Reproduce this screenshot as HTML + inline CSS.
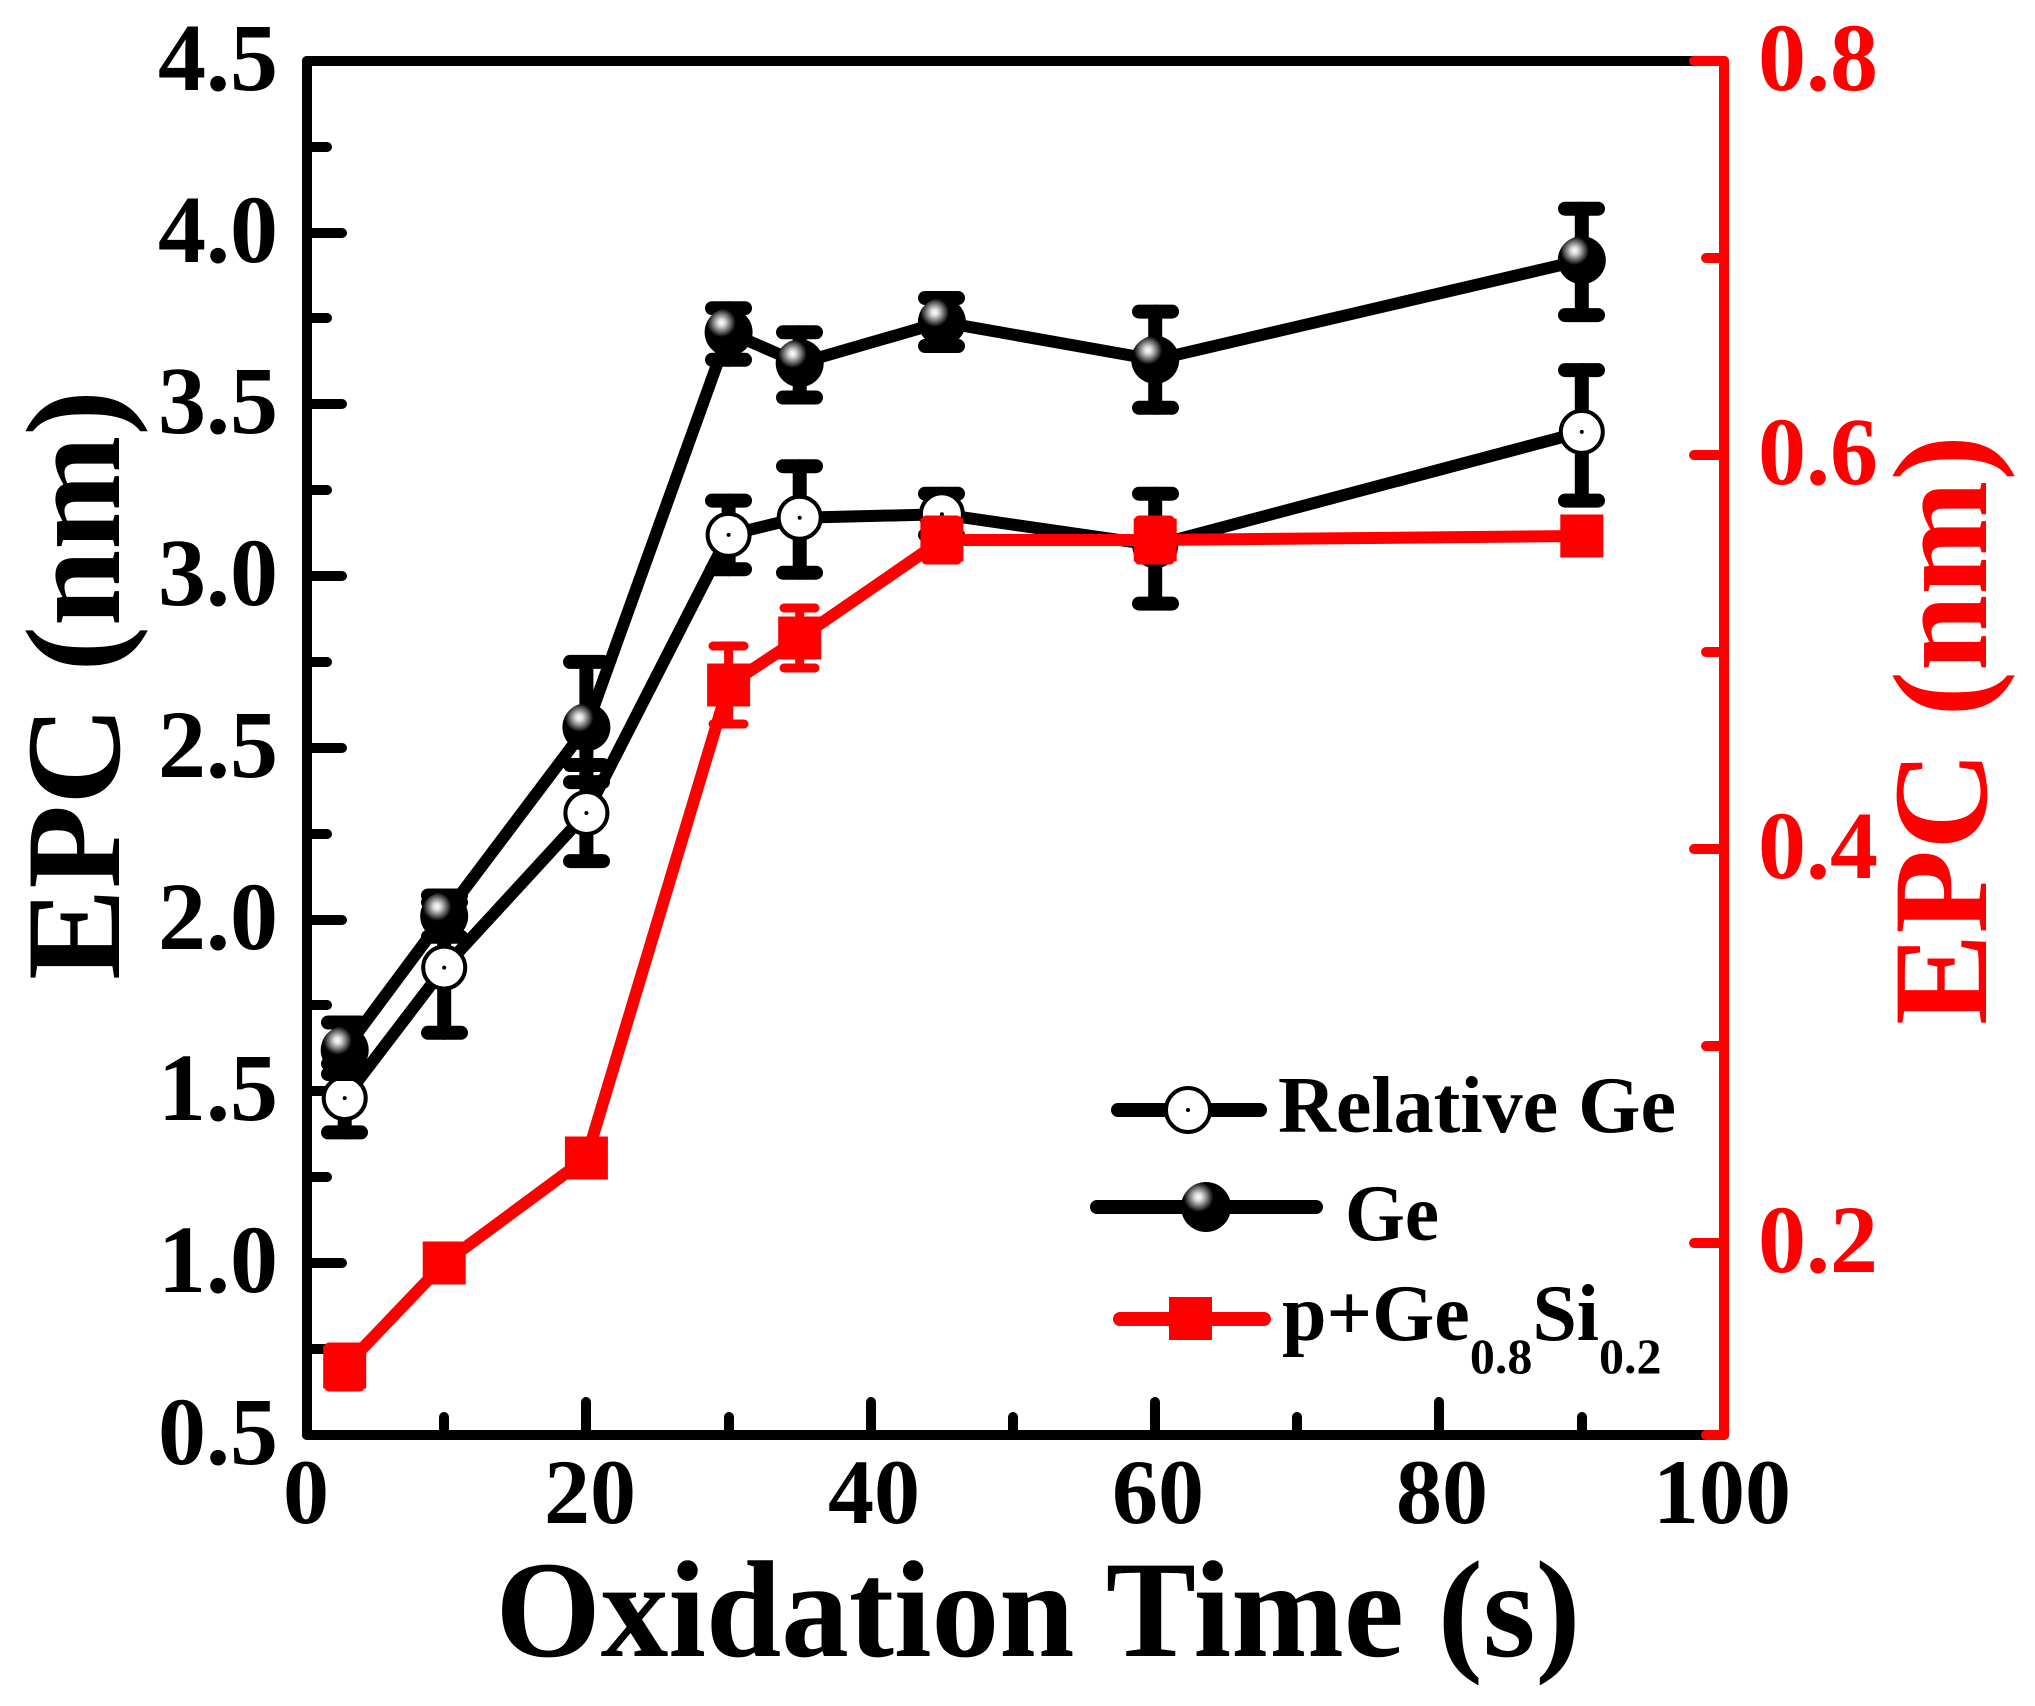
<!DOCTYPE html>
<html><head><meta charset="utf-8"><style>html,body{margin:0;padding:0;background:#fff}svg{display:block}</style></head>
<body>
<svg width="2035" height="1706" viewBox="0 0 2035 1706" xmlns="http://www.w3.org/2000/svg" font-family="Liberation Serif, serif" font-weight="bold">
<defs>
<radialGradient id="g" cx="0.35" cy="0.3" r="0.6">
<stop offset="0" stop-color="#fff"/><stop offset="0.12" stop-color="#ddd"/><stop offset="0.3" stop-color="#777"/><stop offset="0.5" stop-color="#000"/><stop offset="1" stop-color="#000"/>
</radialGradient>
</defs>
<g stroke="#000" stroke-width="10" stroke-linecap="round">
<line x1="307" y1="61" x2="1724" y2="61"/>
<line x1="307" y1="61" x2="307" y2="1435"/>
<line x1="307" y1="1435" x2="1724" y2="1435"/>
<line x1="307" y1="61" x2="342" y2="61"/>
<line x1="307" y1="233" x2="342" y2="233"/>
<line x1="307" y1="404" x2="342" y2="404"/>
<line x1="307" y1="576" x2="342" y2="576"/>
<line x1="307" y1="748" x2="342" y2="748"/>
<line x1="307" y1="920" x2="342" y2="920"/>
<line x1="307" y1="1091" x2="342" y2="1091"/>
<line x1="307" y1="1263" x2="342" y2="1263"/>
<line x1="307" y1="147" x2="327" y2="147"/>
<line x1="307" y1="318" x2="327" y2="318"/>
<line x1="307" y1="490" x2="327" y2="490"/>
<line x1="307" y1="662" x2="327" y2="662"/>
<line x1="307" y1="834" x2="327" y2="834"/>
<line x1="307" y1="1005" x2="327" y2="1005"/>
<line x1="307" y1="1177" x2="327" y2="1177"/>
<line x1="307" y1="1349" x2="327" y2="1349"/>
<line x1="586" y1="1435" x2="586" y2="1402"/>
<line x1="871" y1="1435" x2="871" y2="1402"/>
<line x1="1155" y1="1435" x2="1155" y2="1402"/>
<line x1="1439" y1="1435" x2="1439" y2="1402"/>
<line x1="444" y1="1435" x2="444" y2="1417"/>
<line x1="729" y1="1435" x2="729" y2="1417"/>
<line x1="1013" y1="1435" x2="1013" y2="1417"/>
<line x1="1297" y1="1435" x2="1297" y2="1417"/>
<line x1="1582" y1="1435" x2="1582" y2="1417"/>
</g>
<g stroke="#f00" stroke-width="10" stroke-linecap="round">
<line x1="1724" y1="61" x2="1724" y2="1435"/>
<line x1="1724" y1="61" x2="1694" y2="61"/>
<line x1="1724" y1="455" x2="1694" y2="455"/>
<line x1="1724" y1="849" x2="1694" y2="849"/>
<line x1="1724" y1="1243" x2="1694" y2="1243"/>
<line x1="1724" y1="258" x2="1706" y2="258"/>
<line x1="1724" y1="652" x2="1706" y2="652"/>
<line x1="1724" y1="1046" x2="1706" y2="1046"/>
<line x1="1724" y1="1435" x2="1706" y2="1435"/>
</g>
<g font-size="96" text-anchor="end" fill="#000">
<text x="278" y="90">4.5</text>
<text x="278" y="262">4.0</text>
<text x="278" y="433">3.5</text>
<text x="278" y="605">3.0</text>
<text x="278" y="777">2.5</text>
<text x="278" y="949">2.0</text>
<text x="278" y="1120">1.5</text>
<text x="278" y="1292">1.0</text>
<text x="278" y="1464">0.5</text>
</g>
<g font-size="92" text-anchor="middle" fill="#000">
<text x="306" y="1523">0</text>
<text x="590" y="1523">20</text>
<text x="874" y="1523">40</text>
<text x="1158" y="1523">60</text>
<text x="1442" y="1523">80</text>
<text x="1722" y="1523">100</text>
</g>
<g font-size="96" fill="#f00">
<text x="1758" y="90">0.8</text>
<text x="1758" y="484">0.6</text>
<text x="1758" y="878">0.4</text>
<text x="1758" y="1272">0.2</text>
</g>
<text x="1038" y="1656" font-size="138" text-anchor="middle" textLength="1085" lengthAdjust="spacingAndGlyphs">Oxidation Time (s)</text>
<text transform="translate(119,685) rotate(-90)" font-size="135" text-anchor="middle" textLength="590" lengthAdjust="spacingAndGlyphs">EPC (nm)</text>
<text transform="translate(1986,730) rotate(-90)" font-size="135" text-anchor="middle" fill="#f00" textLength="590" lengthAdjust="spacingAndGlyphs">EPC (nm)</text>

<polyline fill="none" stroke="#000" stroke-width="12" stroke-linejoin="round" points="344.7,1098.1 444.2,967.6 586.4,813 728.6,534.9 799.7,517.7 941.9,514.3 1155.2,545.2 1581.8,431.9"/>
<g stroke="#000" stroke-width="14" stroke-linecap="round">
<line x1="344.7" y1="1132.4" x2="344.7" y2="1063.8"/><line x1="328" y1="1132.4" x2="361" y2="1132.4"/><line x1="328" y1="1063.8" x2="361" y2="1063.8"/>
<line x1="444.2" y1="1032.8" x2="444.2" y2="902.3"/><line x1="428" y1="1032.8" x2="461" y2="1032.8"/><line x1="428" y1="902.3" x2="461" y2="902.3"/>
<line x1="586.4" y1="861.1" x2="586.4" y2="765"/><line x1="570" y1="861.1" x2="603" y2="861.1"/><line x1="570" y1="765" x2="603" y2="765"/>
<line x1="728.6" y1="569.2" x2="728.6" y2="500.6"/><line x1="712" y1="569.2" x2="745" y2="569.2"/><line x1="712" y1="500.6" x2="745" y2="500.6"/>
<line x1="799.7" y1="572.7" x2="799.7" y2="466.2"/><line x1="783" y1="572.7" x2="816" y2="572.7"/><line x1="783" y1="466.2" x2="816" y2="466.2"/>
<line x1="941.9" y1="534.9" x2="941.9" y2="493.7"/><line x1="925" y1="534.9" x2="958" y2="534.9"/><line x1="925" y1="493.7" x2="958" y2="493.7"/>
<line x1="1155.2" y1="603.6" x2="1155.2" y2="493.7"/><line x1="1139" y1="603.6" x2="1172" y2="603.6"/><line x1="1139" y1="493.7" x2="1172" y2="493.7"/>
<line x1="1581.8" y1="500.6" x2="1581.8" y2="370.1"/><line x1="1565" y1="500.6" x2="1598" y2="500.6"/><line x1="1565" y1="370.1" x2="1598" y2="370.1"/>
</g>
<g fill="#fff" stroke="#000" stroke-width="4">
<circle cx="344.7" cy="1098.1" r="21"/><circle cx="444.2" cy="967.6" r="21"/><circle cx="586.4" cy="813" r="21"/><circle cx="728.6" cy="534.9" r="21"/><circle cx="799.7" cy="517.7" r="21"/><circle cx="941.9" cy="514.3" r="21"/><circle cx="1155.2" cy="545.2" r="21"/><circle cx="1581.8" cy="431.9" r="21"/>
</g>
<g fill="#000">
<circle cx="344.7" cy="1098.1" r="2"/><circle cx="444.2" cy="967.6" r="2"/><circle cx="586.4" cy="813" r="2"/><circle cx="728.6" cy="534.9" r="2"/><circle cx="799.7" cy="517.7" r="2"/><circle cx="941.9" cy="514.3" r="2"/><circle cx="1155.2" cy="545.2" r="2"/><circle cx="1581.8" cy="431.9" r="2"/>
</g>

<polyline fill="none" stroke="#000" stroke-width="12" stroke-linejoin="round" points="344.7,1050 444.2,916.1 586.4,727.2 728.6,332.3 799.7,363.2 941.9,322 1155.2,359.8 1581.8,260.2"/>
<g stroke="#000" stroke-width="14" stroke-linecap="round">
<line x1="344.7" y1="1074" x2="344.7" y2="1022.5"/><line x1="328" y1="1074" x2="361" y2="1074"/><line x1="328" y1="1022.5" x2="361" y2="1022.5"/>
<line x1="444.2" y1="936.7" x2="444.2" y2="895.5"/><line x1="428" y1="936.7" x2="461" y2="936.7"/><line x1="428" y1="895.5" x2="461" y2="895.5"/>
<line x1="586.4" y1="782.1" x2="586.4" y2="661.9"/><line x1="570" y1="782.1" x2="603" y2="782.1"/><line x1="570" y1="661.9" x2="603" y2="661.9"/>
<line x1="728.6" y1="359.8" x2="728.6" y2="308.2"/><line x1="712" y1="359.8" x2="745" y2="359.8"/><line x1="712" y1="308.2" x2="745" y2="308.2"/>
<line x1="799.7" y1="397.5" x2="799.7" y2="332.3"/><line x1="783" y1="397.5" x2="816" y2="397.5"/><line x1="783" y1="332.3" x2="816" y2="332.3"/>
<line x1="941.9" y1="346" x2="941.9" y2="298"/><line x1="925" y1="346" x2="958" y2="346"/><line x1="925" y1="298" x2="958" y2="298"/>
<line x1="1155.2" y1="407.8" x2="1155.2" y2="311.6"/><line x1="1139" y1="407.8" x2="1172" y2="407.8"/><line x1="1139" y1="311.6" x2="1172" y2="311.6"/>
<line x1="1581.8" y1="315.1" x2="1581.8" y2="208.7"/><line x1="1565" y1="315.1" x2="1598" y2="315.1"/><line x1="1565" y1="208.7" x2="1598" y2="208.7"/>
</g>
<g fill="url(#g)">
<circle cx="344.7" cy="1050" r="24"/><circle cx="444.2" cy="916.1" r="24"/><circle cx="586.4" cy="727.2" r="24"/><circle cx="728.6" cy="332.3" r="24"/><circle cx="799.7" cy="363.2" r="24"/><circle cx="941.9" cy="322" r="24"/><circle cx="1155.2" cy="359.8" r="24"/><circle cx="1581.8" cy="260.2" r="24"/>
</g>

<polyline fill="none" stroke="#f00" stroke-width="12" stroke-linejoin="round" points="344.7,1367 444.2,1263 586.4,1158 728.6,685 799.7,638 941.9,540 1155.2,540 1581.8,536"/>
<g stroke="#f00" stroke-width="9" stroke-linecap="round">
<line x1="344.7" y1="1387" x2="344.7" y2="1347"/><line x1="329" y1="1387" x2="360" y2="1387"/><line x1="329" y1="1347" x2="360" y2="1347"/>
<line x1="728.6" y1="724" x2="728.6" y2="646"/><line x1="713" y1="724" x2="744" y2="724"/><line x1="713" y1="646" x2="744" y2="646"/>
<line x1="799.7" y1="668" x2="799.7" y2="608"/><line x1="784" y1="668" x2="815" y2="668"/><line x1="784" y1="608" x2="815" y2="608"/>
<line x1="941.9" y1="560" x2="941.9" y2="520"/><line x1="926" y1="560" x2="957" y2="560"/><line x1="926" y1="520" x2="957" y2="520"/>
<line x1="1155.2" y1="560" x2="1155.2" y2="520"/><line x1="1139" y1="560" x2="1170" y2="560"/><line x1="1139" y1="520" x2="1170" y2="520"/>
</g>
<g fill="#f00">
<rect x="323.2" y="1345.5" width="43" height="43"/><rect x="422.7" y="1241.5" width="43" height="43"/><rect x="564.9" y="1136.5" width="43" height="43"/><rect x="707.1" y="663.5" width="43" height="43"/><rect x="778.2" y="616.5" width="43" height="43"/><rect x="920.4" y="518.5" width="43" height="43"/><rect x="1133.7" y="518.5" width="43" height="43"/><rect x="1560.3" y="514.5" width="43" height="43"/>
</g>

<g stroke-width="14" stroke-linecap="round">
<line x1="1118" y1="1110" x2="1260" y2="1110" stroke="#000"/>
<line x1="1097" y1="1207" x2="1316" y2="1207" stroke="#000"/>
<line x1="1120" y1="1319" x2="1264" y2="1319" stroke="#f00"/>
</g>
<circle cx="1188" cy="1110" r="22" fill="#fff" stroke="#000" stroke-width="4"/>
<circle cx="1188" cy="1110" r="2" fill="#000"/>
<circle cx="1206" cy="1207" r="25" fill="url(#g)"/>
<rect x="1169" y="1297" width="43" height="43" fill="#f00"/>
<text x="1278" y="1132" font-size="80" textLength="398" lengthAdjust="spacingAndGlyphs">Relative Ge</text>
<text x="1345" y="1240" font-size="80" textLength="94" lengthAdjust="spacingAndGlyphs">Ge</text>
<text x="1282" y="1340" font-size="80">p+Ge<tspan font-size="50" dy="33">0.8</tspan><tspan dy="-33">Si</tspan><tspan font-size="50" dy="33">0.2</tspan></text>
</svg>
</body></html>
